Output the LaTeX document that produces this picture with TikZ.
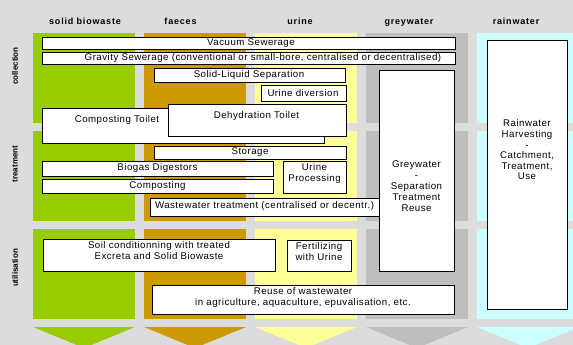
\documentclass[tikz,border=0pt]{standalone}
\usepackage{fontspec}
\setmainfont{Liberation Sans}
\newfontfamily\boxfont[LetterSpace=5]{Liberation Sans}
\newfontfamily\headfont[LetterSpace=9]{Liberation Sans}
\usetikzlibrary{shadows}
\definecolor{bgc}{HTML}{DCDCDC}
\definecolor{cgreen}{HTML}{99CC00}
\definecolor{cfaeces}{HTML}{CC9900}
\definecolor{curine}{HTML}{FFFF99}
\definecolor{cgrey}{HTML}{BEBEBE}
\definecolor{crain}{HTML}{CCFFFF}
\tikzset{
  box/.style={draw=black, line width=0.8pt, fill=white, anchor=north west, inner sep=0pt,
    drop shadow={shadow xshift=0.9pt, shadow yshift=-0.9pt, fill=black!55, opacity=1}},
  txt/.style={font=\boxfont\fontsize{9.7}{11}\selectfont, align=center, inner sep=0pt},
  head/.style={font=\headfont\bfseries\fontsize{9}{11}\selectfont, inner sep=0pt, anchor=base},
  rowlab/.style={font=\bfseries\fontsize{8}{10}\selectfont, rotate=90, inner sep=0pt},
}
\begin{document}
\begin{tikzpicture}[x=1pt,y=-1pt]
\useasboundingbox (0,0) rectangle (573,345);
\fill[bgc] (0,0) rectangle (573,345);
\begin{scope}
\clip (0,0) rectangle (573,345);
\foreach \x/\c in {33/cgreen,144/cfaeces,255/curine,366/cgrey,477/crain}{
  \fill[\c] (\x,33) rectangle ++(102,90);
  \fill[\c] (\x,131) rectangle ++(102,90);
  \fill[\c] (\x,229) rectangle ++(102,90);
  \fill[\c] (\x,327) -- ++(102,0) -- ++(-51,21) -- cycle;
}
\end{scope}
% headers
\node[head] (h1) at (85,24.5) {solid biowaste};
\node[head] (h2) at (180.5,24.5) {faeces};
\node[head] (h3) at (300,24.5) {urine};
\node[head] (h4) at (409,24.5) {greywater};
\node[head] (h5) at (516,24.5) {rainwater};
% row labels
\node[rowlab] (r1) at (15,66) {collection};
\node[rowlab] (r2) at (15,164) {treatment};
\node[rowlab] (r3) at (15,268) {utilisation};
% boxes
\node[box, minimum width=413pt, minimum height=12pt] (vac) at (42,37) {};
\node[txt] (vact) at (251,43) {Vacuum Sewerage};
\node[box, minimum width=413pt, minimum height=12pt] (grav) at (42,52) {};
\node[txt] (gravt) at (263,58) {Gravity Sewerage (conventional or small-bore, centralised or decentralised)};
\node[box, minimum width=191pt, minimum height=14pt] (sls) at (154,68) {};
\node[txt] (slst) at (249,75) {Solid-Liquid Separation};
\node[box, minimum width=85pt, minimum height=16pt] (udiv) at (261,85) {};
\node[txt] (udivt) at (303,93) {Urine diversion};
\node[box, minimum width=282pt, minimum height=35pt] (ctoil) at (42,108) {};
\node[txt] (ctoilt) at (117,120) {Composting Toilet};
\node[box, minimum width=178pt, minimum height=32pt] (dtoil) at (168,104) {};
\node[txt] (dtoilt) at (256.5,116) {Dehydration Toilet};
\node[box, minimum width=192pt, minimum height=13pt] (stor) at (154,146) {};
\node[txt] (stort) at (250,152.5) {Storage};
\node[box, minimum width=231pt, minimum height=15pt] (bio) at (42,161) {};
\node[txt] (biot) at (157.5,168) {Biogas Digestors};
\node[box, minimum width=231pt, minimum height=14pt] (comp) at (42,179) {};
\node[txt] (compt) at (157.5,186) {Composting};
\node[box, minimum width=63pt, minimum height=32pt] (uproc) at (283,161) {};
\node[txt] (uproct) at (314.5,173.5) {Urine\\Processing};
\node[box, minimum width=229pt, minimum height=18pt] (wwt) at (150,198) {};
\node[txt] (wwtt) at (264.5,205.5) {Wastewater treatment (centralised or decentr.)};
\node[box, minimum width=75pt, minimum height=201pt] (grey) at (379,70) {};
\node[txt] (greyt) at (416.5,186) {Greywater\\-\\Separation\\Treatment\\Reuse};
\node[box, minimum width=80pt, minimum height=269pt] (rain) at (487,40) {};
\node[txt, font=\boxfont\fontsize{9.7}{10.6}\selectfont] (raint) at (527,150) {Rainwater\\Harvesting\\-\\Catchment,\\Treatment,\\Use};
\node[box, minimum width=232pt, minimum height=32pt] (soil) at (43,239) {};
\node[txt] (soilt) at (159,251) {Soil conditionning with treated\\Excreta and Solid Biowaste};
\node[box, minimum width=64pt, minimum height=31pt] (fert) at (287,240) {};
\node[txt] (fertt) at (319,251.5) {Fertilizing\\with Urine};
\node[box, minimum width=302pt, minimum height=29pt] (reuse) at (152,285) {};
\node[txt] (reuset) at (303,297) {Reuse of wastewater\\in agriculture, aquaculture, epuvalisation, etc.};
\end{tikzpicture}
\end{document}
